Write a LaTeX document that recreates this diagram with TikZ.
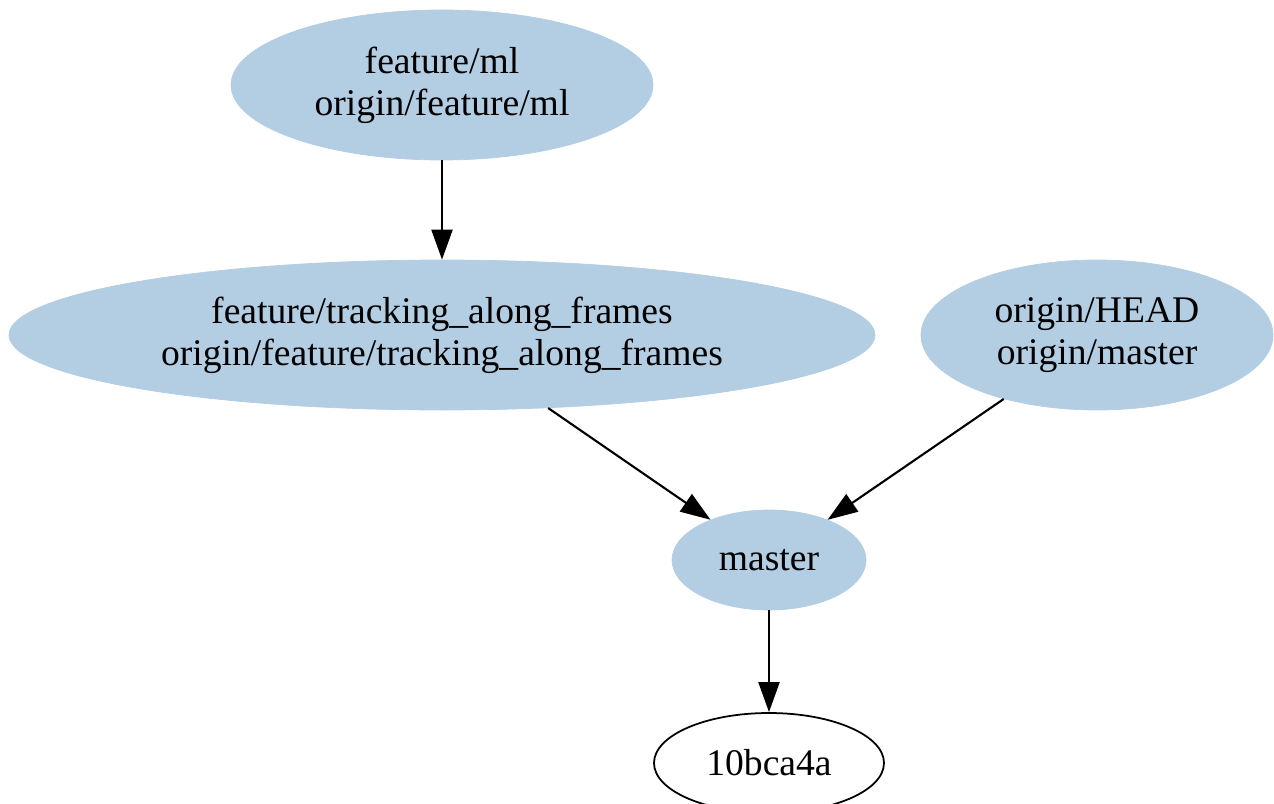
\documentclass[tikz,border=0pt]{standalone}
\usepackage{fontspec}
\setmainfont{Liberation Serif}
\usepackage{tikz}
\usetikzlibrary{shapes.geometric,arrows.meta}
\definecolor{refblue}{HTML}{B3CDE3}
\tikzset{
    refnode/.style={ellipse, fill=refblue, draw=refblue, inner sep=0pt, align=center,
        font=\fontsize{21.4}{24}\selectfont, minimum height=3cm},
    commitnode/.style={ellipse, draw=black, line width=1pt, fill=white, inner sep=0pt,
        font=\fontsize{21.4}{24}\selectfont},
    edge/.style={line width=1.2pt, -{Triangle[length=0.6cm, width=0.42cm]}}
}

\begin{document}
\begin{tikzpicture}
    \useasboundingbox (0,0) rectangle (25.48,-16.08);
    \clip (0,0) rectangle (25.48,-16.08);

    % branch refs
    \node [refnode, minimum width=8.44cm] (ml) at (8.84,-1.70) {feature/ml\\origin/feature/ml};
    \node [refnode, minimum width=17.32cm] (tracking) at (8.84,-6.70)
        {feature/tracking\_along\_frames\\origin/feature/tracking\_along\_frames};
    \node [refnode, minimum width=7.04cm] (originhead) at (21.94,-6.70) {origin/HEAD\\origin/master};
    \node [refnode, minimum width=3.88cm, minimum height=2cm] (master) at (15.38,-11.20) {master};

    % commit
    \node [commitnode, minimum width=4.6cm, minimum height=2cm] (commit) at (15.38,-15.26) {10bca4a};

    \draw [edge] (ml) -- (tracking);
    \draw [edge] (tracking) -- (master);
    \draw [edge] (originhead) -- (master);
    \draw [edge] (master) -- (commit);
\end{tikzpicture}
\end{document}
